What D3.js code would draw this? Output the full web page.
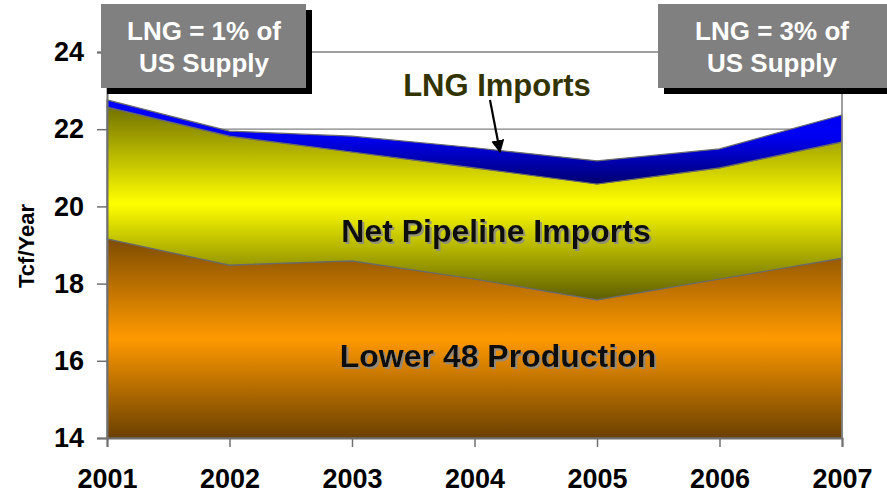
<!DOCTYPE html>
<html>
<head>
<meta charset="utf-8">
<script src="https://cdn.jsdelivr.net/npm/d3@7"></script>
<style>
  body { margin: 0; background: #fff; }
  svg { display: block; font-family: "Liberation Sans", Arial, sans-serif; }
</style>
</head>
<body>
<svg id="chart" width="887" height="494"></svg>
<script>
// ── Data (Tcf/Year) ──────────────────────────────────────────────────
const years = [2001, 2002, 2003, 2004, 2005, 2006, 2007];
const production = [19.16, 18.48, 18.59, 18.12, 17.58, 18.12, 18.66];
const pipeline = [3.41, 3.34, 2.82, 2.88, 3.00, 2.88, 3.01];
const lng = [0.19, 0.13, 0.41, 0.52, 0.60, 0.49, 0.70];
const yTicks = [14, 16, 18, 20, 22, 24];
const callouts = [
  { lines: ['LNG = 1% of', 'US Supply'] },
  { lines: ['LNG = 3% of', 'US Supply'] },
];

// ── Layout ───────────────────────────────────────────────────────────
const svg = d3.select('#chart');
const x = d3.scaleLinear().domain([2001, 2007]).range([107, 842]);
const y = d3.scaleLinear().domain([14, 24]).range([438, 52]);

const rows = years.map((yr, i) => ({
  year: yr,
  prod: production[i],
  pipe: production[i] + pipeline[i],
  lng: production[i] + pipeline[i] + lng[i],
}));

// ── Gradients & filters ──────────────────────────────────────────────
const defs = svg.append('defs');
function grad(id, stops) {
  const g = defs.append('linearGradient').attr('id', id)
    .attr('x1', 0).attr('y1', 0).attr('x2', 0).attr('y2', 1);
  stops.forEach(([o, c]) => g.append('stop').attr('offset', o).attr('stop-color', c));
}
grad('g-prod', [[0, '#7e4c00'], [0.5, '#ff9900'], [1, '#6a4000']]);
grad('g-pipe', [[0, '#727200'], [0.5, '#ffff00'], [1, '#5e5e00']]);
grad('g-lng', [[0, '#0000ff'], [0.45, '#0000f0'], [1, '#000070']]);

const shadow = defs.append('filter').attr('id', 'txt-shadow')
  .attr('x', '-5%').attr('y', '-20%').attr('width', '110%').attr('height', '140%');
shadow.append('feDropShadow')
  .attr('dx', 2).attr('dy', 2).attr('stdDeviation', 0.4)
  .attr('flood-color', '#8a8a8a').attr('flood-opacity', 0.85);

// Gridlines
svg.append('g')
  .selectAll('line')
  .data(yTicks.slice(1))
  .join('line')
  .attr('x1', x(2001)).attr('x2', x(2007))
  .attr('y1', d => y(d)).attr('y2', d => y(d))
  .attr('stroke', '#808080').attr('stroke-width', 1.3);

// Areas
const layers = [
  { lo: () => 14, hi: d => d.prod, fill: 'url(#g-prod)' },
  { lo: d => d.prod, hi: d => d.pipe, fill: 'url(#g-pipe)' },
  { lo: d => d.pipe, hi: d => d.lng, fill: 'url(#g-lng)' },
];
layers.forEach(l => {
  svg.append('path')
    .datum(rows)
    .attr('d', d3.area().x(d => x(d.year)).y0(d => y(l.lo(d))).y1(d => y(l.hi(d))))
    .attr('fill', l.fill)
    .attr('stroke', '#6a6a6a').attr('stroke-width', 1.2);
});

// Plot frame (right side)
svg.append('line')
  .attr('x1', x(2007)).attr('x2', x(2007)).attr('y1', y(24)).attr('y2', y(14))
  .attr('stroke', '#808080').attr('stroke-width', 1.5);

// ── Axes ─────────────────────────────────────────────────────────────
const yAxis = svg.append('g')
  .attr('transform', `translate(${x(2001)},0)`)
  .call(d3.axisLeft(y).tickValues(yTicks).tickSize(10).tickPadding(13).tickFormat(d3.format('d')));
const xAxis = svg.append('g')
  .attr('transform', `translate(0,${y(14)})`)
  .call(d3.axisBottom(x).tickValues(years).tickSize(9).tickPadding(22).tickFormat(d3.format('d')));

[yAxis, xAxis].forEach(a => {
  a.select('.domain').attr('stroke', '#707070').attr('stroke-width', 2);
  a.selectAll('.tick line').attr('stroke', '#707070').attr('stroke-width', 1.5);
  a.selectAll('.tick text')
    .attr('fill', '#000').attr('font-size', 27).attr('font-weight', 'bold')
    .attr('font-family', '"Liberation Sans", Arial, sans-serif');
});

svg.append('text')
  .attr('transform', 'translate(34,246) rotate(-90)')
  .attr('text-anchor', 'middle')
  .attr('font-size', 22).attr('font-weight', 'bold')
  .text('Tcf/Year');

// ── Area labels ──────────────────────────────────────────────────────
function areaLabel(txt, cx, by) {
  svg.append('text').attr('x', cx).attr('y', by)
    .attr('text-anchor', 'middle').attr('font-size', 32).attr('font-weight', 'bold')
    .attr('fill', '#111').attr('filter', 'url(#txt-shadow)').text(txt);
}
areaLabel('Net Pipeline Imports', 496, 242);
areaLabel('Lower 48 Production', 498, 367);

svg.append('text').attr('x', 497).attr('y', 96)
  .attr('text-anchor', 'middle').attr('font-size', 31).attr('font-weight', 'bold')
  .attr('fill', '#333300').text('LNG Imports');

// Arrow
defs.append('marker').attr('id', 'arrow')
  .attr('viewBox', '0 0 10 10').attr('refX', 9).attr('refY', 5)
  .attr('markerWidth', 6).attr('markerHeight', 6).attr('orient', 'auto')
  .append('path').attr('d', 'M0,0 L10,5 L0,10 z').attr('fill', '#000');
svg.append('line')
  .attr('x1', 490).attr('y1', 100).attr('x2', 500).attr('y2', 152)
  .attr('stroke', '#000').attr('stroke-width', 2.2)
  .attr('marker-end', 'url(#arrow)');

// ── Callout boxes ────────────────────────────────────────────────────
const boxes = [
  { x: 101, w: 205 },
  { x: 658, w: 240 },
];
boxes.forEach((b, i) => {
  const g = svg.append('g');
  g.append('rect').attr('x', b.x + 6).attr('y', 10).attr('width', b.w).attr('height', 84).attr('fill', '#000');
  g.append('rect').attr('x', b.x).attr('y', 4).attr('width', b.w).attr('height', 84).attr('fill', '#808080');
  const cx = i === 0 ? 204 : 772;
  callouts[i].lines.forEach((t, j) => {
    g.append('text').attr('x', cx).attr('y', 40 + j * 32)
      .attr('text-anchor', 'middle').attr('font-size', 26).attr('font-weight', 'bold')
      .attr('fill', '#fff').text(t);
  });
});
</script>
</body>
</html>
